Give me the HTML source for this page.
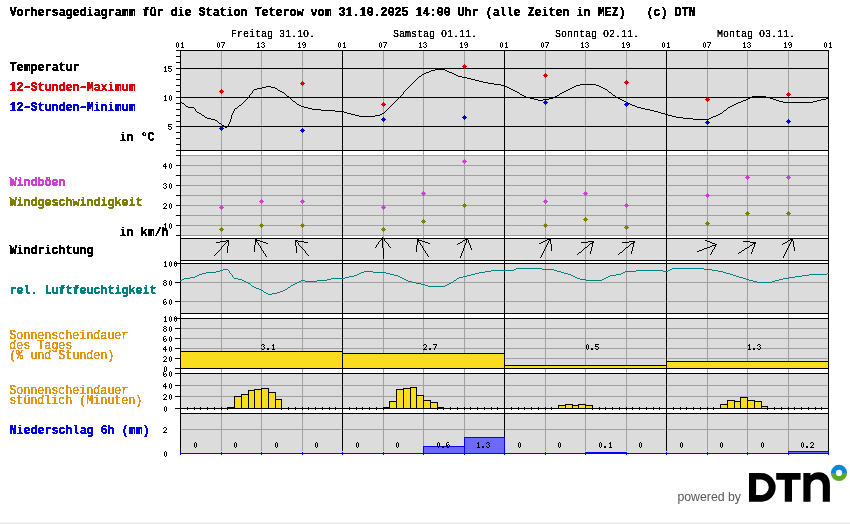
<!DOCTYPE html>
<html><head><meta charset="utf-8"><title>Vorhersagediagramm Teterow</title>
<style>
html,body{margin:0;padding:0;background:#fff;}
body{width:850px;height:524px;overflow:hidden;font-family:"Liberation Sans",sans-serif;}
svg{display:block;position:absolute;left:0;top:0;}
text{white-space:pre;}
</style></head><body>
<svg width="850" height="524" viewBox="0 0 850 524">
<rect width="850" height="524" fill="#fff"/>
<rect x="0" y="522" width="850" height="1" fill="#f2f2f2"/>
<rect x="0" y="523" width="850" height="1" fill="#ebebeb"/>
<g shape-rendering="crispEdges">
<rect x="180" y="50" width="649" height="101" fill="#dcdcdc"/>
<rect x="180" y="155" width="649" height="81" fill="#dcdcdc"/>
<rect x="180" y="238" width="649" height="23" fill="#dcdcdc"/>
<rect x="180" y="263" width="649" height="51" fill="#dcdcdc"/>
<rect x="180" y="318" width="649" height="51" fill="#dcdcdc"/>
<rect x="180" y="373" width="649" height="36" fill="#dcdcdc"/>
<rect x="180" y="413" width="649" height="41" fill="#dcdcdc"/>
<rect x="180" y="155" width="649" height="1" fill="#a0a0a0"/>
<rect x="180" y="165" width="649" height="1" fill="#a0a0a0"/>
<rect x="180" y="175" width="649" height="1" fill="#a0a0a0"/>
<rect x="180" y="185" width="649" height="1" fill="#a0a0a0"/>
<rect x="180" y="195" width="649" height="1" fill="#a0a0a0"/>
<rect x="180" y="205" width="649" height="1" fill="#a0a0a0"/>
<rect x="180" y="215" width="649" height="1" fill="#a0a0a0"/>
<rect x="180" y="225" width="649" height="1" fill="#a0a0a0"/>
<rect x="180" y="235" width="649" height="1" fill="#a0a0a0"/>
<rect x="180" y="282" width="649" height="1" fill="#a0a0a0"/>
<rect x="180" y="301" width="649" height="1" fill="#a0a0a0"/>
<rect x="180" y="328" width="649" height="1" fill="#a0a0a0"/>
<rect x="180" y="338" width="649" height="1" fill="#a0a0a0"/>
<rect x="180" y="348" width="649" height="1" fill="#a0a0a0"/>
<rect x="180" y="358" width="649" height="1" fill="#a0a0a0"/>
<rect x="180" y="385" width="649" height="1" fill="#a0a0a0"/>
<rect x="180" y="396" width="649" height="1" fill="#a0a0a0"/>
<rect x="180" y="429" width="649" height="1" fill="#a0a0a0"/>
<rect x="221" y="51" width="1" height="400" fill="#a0a0a0"/>
<rect x="261" y="51" width="1" height="400" fill="#a0a0a0"/>
<rect x="302" y="51" width="1" height="400" fill="#a0a0a0"/>
<rect x="383" y="51" width="1" height="400" fill="#a0a0a0"/>
<rect x="423" y="51" width="1" height="400" fill="#a0a0a0"/>
<rect x="464" y="51" width="1" height="400" fill="#a0a0a0"/>
<rect x="545" y="51" width="1" height="400" fill="#a0a0a0"/>
<rect x="585" y="51" width="1" height="400" fill="#a0a0a0"/>
<rect x="626" y="51" width="1" height="400" fill="#a0a0a0"/>
<rect x="707" y="51" width="1" height="400" fill="#a0a0a0"/>
<rect x="747" y="51" width="1" height="400" fill="#a0a0a0"/>
<rect x="788" y="51" width="1" height="400" fill="#a0a0a0"/>
<rect x="180" y="50" width="649" height="1" fill="#000"/>
<rect x="180" y="68" width="649" height="1" fill="#000"/>
<rect x="180" y="97" width="649" height="1" fill="#000"/>
<rect x="180" y="126" width="649" height="1" fill="#000"/>
<rect x="180" y="150" width="649" height="1" fill="#000"/>
<rect x="180" y="238" width="649" height="1" fill="#000"/>
<rect x="180" y="260" width="649" height="1" fill="#000"/>
<rect x="180" y="263" width="649" height="1" fill="#000"/>
<rect x="180" y="313" width="649" height="1" fill="#000"/>
<rect x="180" y="318" width="649" height="1" fill="#000"/>
<rect x="180" y="368" width="649" height="1" fill="#000"/>
<rect x="180" y="373" width="649" height="1" fill="#000"/>
<rect x="180" y="408" width="649" height="1" fill="#000"/>
<rect x="180" y="413" width="649" height="1" fill="#000"/>
<rect x="180" y="50" width="1" height="402" fill="#000"/>
<rect x="828" y="50" width="1" height="401" fill="#000"/>
<rect x="342" y="50" width="1" height="401" fill="#000"/>
<rect x="504" y="50" width="1" height="401" fill="#000"/>
<rect x="666" y="50" width="1" height="401" fill="#000"/>
<rect x="176" y="150" width="4" height="1" fill="#000"/>
<rect x="176" y="144" width="4" height="1" fill="#000"/>
<rect x="176" y="138" width="4" height="1" fill="#000"/>
<rect x="176" y="132" width="4" height="1" fill="#000"/>
<rect x="176" y="126" width="4" height="1" fill="#000"/>
<rect x="176" y="121" width="4" height="1" fill="#000"/>
<rect x="176" y="115" width="4" height="1" fill="#000"/>
<rect x="176" y="109" width="4" height="1" fill="#000"/>
<rect x="176" y="103" width="4" height="1" fill="#000"/>
<rect x="176" y="97" width="4" height="1" fill="#000"/>
<rect x="176" y="91" width="4" height="1" fill="#000"/>
<rect x="176" y="85" width="4" height="1" fill="#000"/>
<rect x="176" y="79" width="4" height="1" fill="#000"/>
<rect x="176" y="74" width="4" height="1" fill="#000"/>
<rect x="176" y="68" width="4" height="1" fill="#000"/>
<rect x="176" y="62" width="4" height="1" fill="#000"/>
<rect x="176" y="56" width="4" height="1" fill="#000"/>
<rect x="176" y="50" width="4" height="1" fill="#000"/>
<rect x="176" y="155" width="4" height="1" fill="#000"/>
<rect x="176" y="165" width="4" height="1" fill="#000"/>
<rect x="176" y="175" width="4" height="1" fill="#000"/>
<rect x="176" y="185" width="4" height="1" fill="#000"/>
<rect x="176" y="195" width="4" height="1" fill="#000"/>
<rect x="176" y="205" width="4" height="1" fill="#000"/>
<rect x="176" y="215" width="4" height="1" fill="#000"/>
<rect x="176" y="225" width="4" height="1" fill="#000"/>
<rect x="176" y="235" width="4" height="1" fill="#000"/>
<rect x="175" y="263" width="5" height="1" fill="#000"/>
<rect x="175" y="282" width="5" height="1" fill="#000"/>
<rect x="175" y="301" width="5" height="1" fill="#000"/>
<rect x="175" y="318" width="5" height="1" fill="#000"/>
<rect x="175" y="328" width="5" height="1" fill="#000"/>
<rect x="175" y="338" width="5" height="1" fill="#000"/>
<rect x="175" y="348" width="5" height="1" fill="#000"/>
<rect x="175" y="358" width="5" height="1" fill="#000"/>
<rect x="175" y="368" width="5" height="1" fill="#000"/>
<rect x="175" y="373" width="5" height="1" fill="#000"/>
<rect x="175" y="385" width="5" height="1" fill="#000"/>
<rect x="175" y="396" width="5" height="1" fill="#000"/>
<rect x="175" y="408" width="5" height="1" fill="#000"/>
<path d="M165 66h1v1h-1zM164 67h2v1h-2zM165 68h1v1h-1zM165 69h1v1h-1zM165 70h1v1h-1zM164 71h3v1h-3zM168 66h4v1h-4zM168 67h1v1h-1zM168 68h3v1h-3zM171 69h1v1h-1zM168 70h1v1h-1zM171 70h1v1h-1zM169 71h2v1h-2z" fill="#000"/>
<path d="M165 95h1v1h-1zM164 96h2v1h-2zM165 97h1v1h-1zM165 98h1v1h-1zM165 99h1v1h-1zM164 100h3v1h-3zM170 95h1v1h-1zM169 96h1v1h-1zM171 96h1v1h-1zM169 97h1v1h-1zM171 97h1v1h-1zM169 98h1v1h-1zM171 98h1v1h-1zM169 99h1v1h-1zM171 99h1v1h-1zM170 100h1v1h-1z" fill="#000"/>
<path d="M168 124h4v1h-4zM168 125h1v1h-1zM168 126h3v1h-3zM171 127h1v1h-1zM168 128h1v1h-1zM171 128h1v1h-1zM169 129h2v1h-2z" fill="#000"/>
<path d="M165 163h1v1h-1zM164 164h2v1h-2zM163 165h1v1h-1zM165 165h1v1h-1zM163 166h4v1h-4zM165 167h1v1h-1zM165 168h1v1h-1zM170 163h1v1h-1zM169 164h1v1h-1zM171 164h1v1h-1zM169 165h1v1h-1zM171 165h1v1h-1zM169 166h1v1h-1zM171 166h1v1h-1zM169 167h1v1h-1zM171 167h1v1h-1zM170 168h1v1h-1z" fill="#000"/>
<path d="M164 183h2v1h-2zM163 184h1v1h-1zM166 184h1v1h-1zM165 185h1v1h-1zM166 186h1v1h-1zM163 187h1v1h-1zM166 187h1v1h-1zM164 188h2v1h-2zM170 183h1v1h-1zM169 184h1v1h-1zM171 184h1v1h-1zM169 185h1v1h-1zM171 185h1v1h-1zM169 186h1v1h-1zM171 186h1v1h-1zM169 187h1v1h-1zM171 187h1v1h-1zM170 188h1v1h-1z" fill="#000"/>
<path d="M164 203h2v1h-2zM163 204h1v1h-1zM166 204h1v1h-1zM166 205h1v1h-1zM165 206h1v1h-1zM164 207h1v1h-1zM163 208h4v1h-4zM170 203h1v1h-1zM169 204h1v1h-1zM171 204h1v1h-1zM169 205h1v1h-1zM171 205h1v1h-1zM169 206h1v1h-1zM171 206h1v1h-1zM169 207h1v1h-1zM171 207h1v1h-1zM170 208h1v1h-1z" fill="#000"/>
<path d="M165 223h1v1h-1zM164 224h2v1h-2zM165 225h1v1h-1zM165 226h1v1h-1zM165 227h1v1h-1zM164 228h3v1h-3zM170 223h1v1h-1zM169 224h1v1h-1zM171 224h1v1h-1zM169 225h1v1h-1zM171 225h1v1h-1zM169 226h1v1h-1zM171 226h1v1h-1zM169 227h1v1h-1zM171 227h1v1h-1zM170 228h1v1h-1z" fill="#000"/>
<path d="M165 261h1v1h-1zM164 262h2v1h-2zM165 263h1v1h-1zM165 264h1v1h-1zM165 265h1v1h-1zM164 266h3v1h-3zM170 261h1v1h-1zM169 262h1v1h-1zM171 262h1v1h-1zM169 263h1v1h-1zM171 263h1v1h-1zM169 264h1v1h-1zM171 264h1v1h-1zM169 265h1v1h-1zM171 265h1v1h-1zM170 266h1v1h-1zM175 261h1v1h-1zM174 262h1v1h-1zM176 262h1v1h-1zM174 263h1v1h-1zM176 263h1v1h-1zM174 264h1v1h-1zM176 264h1v1h-1zM174 265h1v1h-1zM176 265h1v1h-1zM175 266h1v1h-1z" fill="#000"/>
<path d="M164 280h2v1h-2zM163 281h1v1h-1zM166 281h1v1h-1zM164 282h2v1h-2zM163 283h1v1h-1zM166 283h1v1h-1zM163 284h1v1h-1zM166 284h1v1h-1zM164 285h2v1h-2zM170 280h1v1h-1zM169 281h1v1h-1zM171 281h1v1h-1zM169 282h1v1h-1zM171 282h1v1h-1zM169 283h1v1h-1zM171 283h1v1h-1zM169 284h1v1h-1zM171 284h1v1h-1zM170 285h1v1h-1z" fill="#000"/>
<path d="M164 299h2v1h-2zM163 300h1v1h-1zM163 301h1v1h-1zM165 301h1v1h-1zM163 302h2v1h-2zM166 302h1v1h-1zM163 303h1v1h-1zM166 303h1v1h-1zM164 304h2v1h-2zM170 299h1v1h-1zM169 300h1v1h-1zM171 300h1v1h-1zM169 301h1v1h-1zM171 301h1v1h-1zM169 302h1v1h-1zM171 302h1v1h-1zM169 303h1v1h-1zM171 303h1v1h-1zM170 304h1v1h-1z" fill="#000"/>
<path d="M165 316h1v1h-1zM164 317h2v1h-2zM165 318h1v1h-1zM165 319h1v1h-1zM165 320h1v1h-1zM164 321h3v1h-3zM170 316h1v1h-1zM169 317h1v1h-1zM171 317h1v1h-1zM169 318h1v1h-1zM171 318h1v1h-1zM169 319h1v1h-1zM171 319h1v1h-1zM169 320h1v1h-1zM171 320h1v1h-1zM170 321h1v1h-1zM175 316h1v1h-1zM174 317h1v1h-1zM176 317h1v1h-1zM174 318h1v1h-1zM176 318h1v1h-1zM174 319h1v1h-1zM176 319h1v1h-1zM174 320h1v1h-1zM176 320h1v1h-1zM175 321h1v1h-1z" fill="#000"/>
<path d="M164 326h2v1h-2zM163 327h1v1h-1zM166 327h1v1h-1zM164 328h2v1h-2zM163 329h1v1h-1zM166 329h1v1h-1zM163 330h1v1h-1zM166 330h1v1h-1zM164 331h2v1h-2zM170 326h1v1h-1zM169 327h1v1h-1zM171 327h1v1h-1zM169 328h1v1h-1zM171 328h1v1h-1zM169 329h1v1h-1zM171 329h1v1h-1zM169 330h1v1h-1zM171 330h1v1h-1zM170 331h1v1h-1z" fill="#000"/>
<path d="M164 336h2v1h-2zM163 337h1v1h-1zM163 338h1v1h-1zM165 338h1v1h-1zM163 339h2v1h-2zM166 339h1v1h-1zM163 340h1v1h-1zM166 340h1v1h-1zM164 341h2v1h-2zM170 336h1v1h-1zM169 337h1v1h-1zM171 337h1v1h-1zM169 338h1v1h-1zM171 338h1v1h-1zM169 339h1v1h-1zM171 339h1v1h-1zM169 340h1v1h-1zM171 340h1v1h-1zM170 341h1v1h-1z" fill="#000"/>
<path d="M165 346h1v1h-1zM164 347h2v1h-2zM163 348h1v1h-1zM165 348h1v1h-1zM163 349h4v1h-4zM165 350h1v1h-1zM165 351h1v1h-1zM170 346h1v1h-1zM169 347h1v1h-1zM171 347h1v1h-1zM169 348h1v1h-1zM171 348h1v1h-1zM169 349h1v1h-1zM171 349h1v1h-1zM169 350h1v1h-1zM171 350h1v1h-1zM170 351h1v1h-1z" fill="#000"/>
<path d="M164 356h2v1h-2zM163 357h1v1h-1zM166 357h1v1h-1zM166 358h1v1h-1zM165 359h1v1h-1zM164 360h1v1h-1zM163 361h4v1h-4zM170 356h1v1h-1zM169 357h1v1h-1zM171 357h1v1h-1zM169 358h1v1h-1zM171 358h1v1h-1zM169 359h1v1h-1zM171 359h1v1h-1zM169 360h1v1h-1zM171 360h1v1h-1zM170 361h1v1h-1z" fill="#000"/>
<path d="M165 366h1v1h-1zM164 367h1v1h-1zM166 367h1v1h-1zM164 368h1v1h-1zM166 368h1v1h-1zM164 369h1v1h-1zM166 369h1v1h-1zM164 370h1v1h-1zM166 370h1v1h-1zM165 371h1v1h-1z" fill="#000"/>
<path d="M164 371h2v1h-2zM163 372h1v1h-1zM163 373h1v1h-1zM165 373h1v1h-1zM163 374h2v1h-2zM166 374h1v1h-1zM163 375h1v1h-1zM166 375h1v1h-1zM164 376h2v1h-2zM170 371h1v1h-1zM169 372h1v1h-1zM171 372h1v1h-1zM169 373h1v1h-1zM171 373h1v1h-1zM169 374h1v1h-1zM171 374h1v1h-1zM169 375h1v1h-1zM171 375h1v1h-1zM170 376h1v1h-1z" fill="#000"/>
<path d="M165 383h1v1h-1zM164 384h2v1h-2zM163 385h1v1h-1zM165 385h1v1h-1zM163 386h4v1h-4zM165 387h1v1h-1zM165 388h1v1h-1zM170 383h1v1h-1zM169 384h1v1h-1zM171 384h1v1h-1zM169 385h1v1h-1zM171 385h1v1h-1zM169 386h1v1h-1zM171 386h1v1h-1zM169 387h1v1h-1zM171 387h1v1h-1zM170 388h1v1h-1z" fill="#000"/>
<path d="M164 394h2v1h-2zM163 395h1v1h-1zM166 395h1v1h-1zM166 396h1v1h-1zM165 397h1v1h-1zM164 398h1v1h-1zM163 399h4v1h-4zM170 394h1v1h-1zM169 395h1v1h-1zM171 395h1v1h-1zM169 396h1v1h-1zM171 396h1v1h-1zM169 397h1v1h-1zM171 397h1v1h-1zM169 398h1v1h-1zM171 398h1v1h-1zM170 399h1v1h-1z" fill="#000"/>
<path d="M165 406h1v1h-1zM164 407h1v1h-1zM166 407h1v1h-1zM164 408h1v1h-1zM166 408h1v1h-1zM164 409h1v1h-1zM166 409h1v1h-1zM164 410h1v1h-1zM166 410h1v1h-1zM165 411h1v1h-1z" fill="#000"/>
<path d="M164 427h2v1h-2zM163 428h1v1h-1zM166 428h1v1h-1zM166 429h1v1h-1zM165 430h1v1h-1zM164 431h1v1h-1zM163 432h4v1h-4z" fill="#000"/>
<path d="M165 451h1v1h-1zM164 452h1v1h-1zM166 452h1v1h-1zM164 453h1v1h-1zM166 453h1v1h-1zM164 454h1v1h-1zM166 454h1v1h-1zM164 455h1v1h-1zM166 455h1v1h-1zM165 456h1v1h-1z" fill="#000"/>
<path d="M177 42h1v1h-1zM176 43h1v1h-1zM178 43h1v1h-1zM176 44h1v1h-1zM178 44h1v1h-1zM176 45h1v1h-1zM178 45h1v1h-1zM176 46h1v1h-1zM178 46h1v1h-1zM177 47h1v1h-1zM182 42h1v1h-1zM181 43h2v1h-2zM182 44h1v1h-1zM182 45h1v1h-1zM182 46h1v1h-1zM181 47h3v1h-3z" fill="#000"/>
<path d="M218 42h1v1h-1zM217 43h1v1h-1zM219 43h1v1h-1zM217 44h1v1h-1zM219 44h1v1h-1zM217 45h1v1h-1zM219 45h1v1h-1zM217 46h1v1h-1zM219 46h1v1h-1zM218 47h1v1h-1zM221 42h4v1h-4zM224 43h1v1h-1zM223 44h1v1h-1zM223 45h1v1h-1zM222 46h1v1h-1zM222 47h1v1h-1z" fill="#000"/>
<path d="M258 42h1v1h-1zM257 43h2v1h-2zM258 44h1v1h-1zM258 45h1v1h-1zM258 46h1v1h-1zM257 47h3v1h-3zM262 42h2v1h-2zM261 43h1v1h-1zM264 43h1v1h-1zM263 44h1v1h-1zM264 45h1v1h-1zM261 46h1v1h-1zM264 46h1v1h-1zM262 47h2v1h-2z" fill="#000"/>
<path d="M299 42h1v1h-1zM298 43h2v1h-2zM299 44h1v1h-1zM299 45h1v1h-1zM299 46h1v1h-1zM298 47h3v1h-3zM303 42h2v1h-2zM302 43h1v1h-1zM305 43h1v1h-1zM302 44h1v1h-1zM304 44h2v1h-2zM303 45h1v1h-1zM305 45h1v1h-1zM305 46h1v1h-1zM303 47h2v1h-2z" fill="#000"/>
<path d="M339 42h1v1h-1zM338 43h1v1h-1zM340 43h1v1h-1zM338 44h1v1h-1zM340 44h1v1h-1zM338 45h1v1h-1zM340 45h1v1h-1zM338 46h1v1h-1zM340 46h1v1h-1zM339 47h1v1h-1zM344 42h1v1h-1zM343 43h2v1h-2zM344 44h1v1h-1zM344 45h1v1h-1zM344 46h1v1h-1zM343 47h3v1h-3z" fill="#000"/>
<path d="M380 42h1v1h-1zM379 43h1v1h-1zM381 43h1v1h-1zM379 44h1v1h-1zM381 44h1v1h-1zM379 45h1v1h-1zM381 45h1v1h-1zM379 46h1v1h-1zM381 46h1v1h-1zM380 47h1v1h-1zM383 42h4v1h-4zM386 43h1v1h-1zM385 44h1v1h-1zM385 45h1v1h-1zM384 46h1v1h-1zM384 47h1v1h-1z" fill="#000"/>
<path d="M420 42h1v1h-1zM419 43h2v1h-2zM420 44h1v1h-1zM420 45h1v1h-1zM420 46h1v1h-1zM419 47h3v1h-3zM424 42h2v1h-2zM423 43h1v1h-1zM426 43h1v1h-1zM425 44h1v1h-1zM426 45h1v1h-1zM423 46h1v1h-1zM426 46h1v1h-1zM424 47h2v1h-2z" fill="#000"/>
<path d="M461 42h1v1h-1zM460 43h2v1h-2zM461 44h1v1h-1zM461 45h1v1h-1zM461 46h1v1h-1zM460 47h3v1h-3zM465 42h2v1h-2zM464 43h1v1h-1zM467 43h1v1h-1zM464 44h1v1h-1zM466 44h2v1h-2zM465 45h1v1h-1zM467 45h1v1h-1zM467 46h1v1h-1zM465 47h2v1h-2z" fill="#000"/>
<path d="M501 42h1v1h-1zM500 43h1v1h-1zM502 43h1v1h-1zM500 44h1v1h-1zM502 44h1v1h-1zM500 45h1v1h-1zM502 45h1v1h-1zM500 46h1v1h-1zM502 46h1v1h-1zM501 47h1v1h-1zM506 42h1v1h-1zM505 43h2v1h-2zM506 44h1v1h-1zM506 45h1v1h-1zM506 46h1v1h-1zM505 47h3v1h-3z" fill="#000"/>
<path d="M542 42h1v1h-1zM541 43h1v1h-1zM543 43h1v1h-1zM541 44h1v1h-1zM543 44h1v1h-1zM541 45h1v1h-1zM543 45h1v1h-1zM541 46h1v1h-1zM543 46h1v1h-1zM542 47h1v1h-1zM545 42h4v1h-4zM548 43h1v1h-1zM547 44h1v1h-1zM547 45h1v1h-1zM546 46h1v1h-1zM546 47h1v1h-1z" fill="#000"/>
<path d="M582 42h1v1h-1zM581 43h2v1h-2zM582 44h1v1h-1zM582 45h1v1h-1zM582 46h1v1h-1zM581 47h3v1h-3zM586 42h2v1h-2zM585 43h1v1h-1zM588 43h1v1h-1zM587 44h1v1h-1zM588 45h1v1h-1zM585 46h1v1h-1zM588 46h1v1h-1zM586 47h2v1h-2z" fill="#000"/>
<path d="M623 42h1v1h-1zM622 43h2v1h-2zM623 44h1v1h-1zM623 45h1v1h-1zM623 46h1v1h-1zM622 47h3v1h-3zM627 42h2v1h-2zM626 43h1v1h-1zM629 43h1v1h-1zM626 44h1v1h-1zM628 44h2v1h-2zM627 45h1v1h-1zM629 45h1v1h-1zM629 46h1v1h-1zM627 47h2v1h-2z" fill="#000"/>
<path d="M663 42h1v1h-1zM662 43h1v1h-1zM664 43h1v1h-1zM662 44h1v1h-1zM664 44h1v1h-1zM662 45h1v1h-1zM664 45h1v1h-1zM662 46h1v1h-1zM664 46h1v1h-1zM663 47h1v1h-1zM668 42h1v1h-1zM667 43h2v1h-2zM668 44h1v1h-1zM668 45h1v1h-1zM668 46h1v1h-1zM667 47h3v1h-3z" fill="#000"/>
<path d="M704 42h1v1h-1zM703 43h1v1h-1zM705 43h1v1h-1zM703 44h1v1h-1zM705 44h1v1h-1zM703 45h1v1h-1zM705 45h1v1h-1zM703 46h1v1h-1zM705 46h1v1h-1zM704 47h1v1h-1zM707 42h4v1h-4zM710 43h1v1h-1zM709 44h1v1h-1zM709 45h1v1h-1zM708 46h1v1h-1zM708 47h1v1h-1z" fill="#000"/>
<path d="M744 42h1v1h-1zM743 43h2v1h-2zM744 44h1v1h-1zM744 45h1v1h-1zM744 46h1v1h-1zM743 47h3v1h-3zM748 42h2v1h-2zM747 43h1v1h-1zM750 43h1v1h-1zM749 44h1v1h-1zM750 45h1v1h-1zM747 46h1v1h-1zM750 46h1v1h-1zM748 47h2v1h-2z" fill="#000"/>
<path d="M785 42h1v1h-1zM784 43h2v1h-2zM785 44h1v1h-1zM785 45h1v1h-1zM785 46h1v1h-1zM784 47h3v1h-3zM789 42h2v1h-2zM788 43h1v1h-1zM791 43h1v1h-1zM788 44h1v1h-1zM790 44h2v1h-2zM789 45h1v1h-1zM791 45h1v1h-1zM791 46h1v1h-1zM789 47h2v1h-2z" fill="#000"/>
<path d="M825 42h1v1h-1zM824 43h1v1h-1zM826 43h1v1h-1zM824 44h1v1h-1zM826 44h1v1h-1zM824 45h1v1h-1zM826 45h1v1h-1zM824 46h1v1h-1zM826 46h1v1h-1zM825 47h1v1h-1zM830 42h1v1h-1zM829 43h2v1h-2zM830 44h1v1h-1zM830 45h1v1h-1zM830 46h1v1h-1zM829 47h3v1h-3z" fill="#000"/>
<rect x="180" y="351" width="163" height="18" fill="#000"/>
<rect x="181" y="352" width="161" height="16" fill="#f9dc1e"/>
<rect x="342" y="353" width="163" height="16" fill="#000"/>
<rect x="343" y="354" width="161" height="14" fill="#f9dc1e"/>
<rect x="504" y="365" width="163" height="4" fill="#000"/>
<rect x="505" y="366" width="161" height="2" fill="#f9dc1e"/>
<rect x="666" y="361" width="163" height="8" fill="#000"/>
<rect x="667" y="362" width="161" height="6" fill="#f9dc1e"/>
<path d="M262 344h2v1h-2zM261 345h1v1h-1zM264 345h1v1h-1zM263 346h1v1h-1zM264 347h1v1h-1zM261 348h1v1h-1zM264 348h1v1h-1zM262 349h2v1h-2zM267 348h2v1h-2zM267 349h2v1h-2zM273 344h1v1h-1zM272 345h2v1h-2zM273 346h1v1h-1zM273 347h1v1h-1zM273 348h1v1h-1zM272 349h3v1h-3z" fill="#000"/>
<path d="M424 344h2v1h-2zM423 345h1v1h-1zM426 345h1v1h-1zM426 346h1v1h-1zM425 347h1v1h-1zM424 348h1v1h-1zM423 349h4v1h-4zM429 348h2v1h-2zM429 349h2v1h-2zM433 344h4v1h-4zM436 345h1v1h-1zM435 346h1v1h-1zM435 347h1v1h-1zM434 348h1v1h-1zM434 349h1v1h-1z" fill="#000"/>
<path d="M587 344h1v1h-1zM586 345h1v1h-1zM588 345h1v1h-1zM586 346h1v1h-1zM588 346h1v1h-1zM586 347h1v1h-1zM588 347h1v1h-1zM586 348h1v1h-1zM588 348h1v1h-1zM587 349h1v1h-1zM591 348h2v1h-2zM591 349h2v1h-2zM595 344h4v1h-4zM595 345h1v1h-1zM595 346h3v1h-3zM598 347h1v1h-1zM595 348h1v1h-1zM598 348h1v1h-1zM596 349h2v1h-2z" fill="#000"/>
<path d="M749 344h1v1h-1zM748 345h2v1h-2zM749 346h1v1h-1zM749 347h1v1h-1zM749 348h1v1h-1zM748 349h3v1h-3zM753 348h2v1h-2zM753 349h2v1h-2zM758 344h2v1h-2zM757 345h1v1h-1zM760 345h1v1h-1zM759 346h1v1h-1zM760 347h1v1h-1zM757 348h1v1h-1zM760 348h1v1h-1zM758 349h2v1h-2z" fill="#000"/>
<rect x="187" y="407" width="1" height="3" fill="#000"/>
<rect x="194" y="407" width="1" height="3" fill="#000"/>
<rect x="200" y="407" width="1" height="3" fill="#000"/>
<rect x="207" y="407" width="1" height="3" fill="#000"/>
<rect x="214" y="407" width="1" height="3" fill="#000"/>
<rect x="221" y="407" width="1" height="3" fill="#000"/>
<rect x="227" y="407" width="1" height="3" fill="#000"/>
<rect x="234" y="407" width="1" height="2" fill="#000"/>
<rect x="241" y="407" width="1" height="2" fill="#000"/>
<rect x="248" y="407" width="1" height="2" fill="#000"/>
<rect x="254" y="407" width="1" height="2" fill="#000"/>
<rect x="261" y="407" width="1" height="2" fill="#000"/>
<rect x="268" y="407" width="1" height="2" fill="#000"/>
<rect x="275" y="407" width="1" height="2" fill="#000"/>
<rect x="281" y="407" width="1" height="3" fill="#000"/>
<rect x="288" y="407" width="1" height="3" fill="#000"/>
<rect x="295" y="407" width="1" height="3" fill="#000"/>
<rect x="302" y="407" width="1" height="3" fill="#000"/>
<rect x="308" y="407" width="1" height="3" fill="#000"/>
<rect x="315" y="407" width="1" height="3" fill="#000"/>
<rect x="322" y="407" width="1" height="3" fill="#000"/>
<rect x="329" y="407" width="1" height="3" fill="#000"/>
<rect x="335" y="407" width="1" height="3" fill="#000"/>
<rect x="342" y="407" width="1" height="3" fill="#000"/>
<rect x="349" y="407" width="1" height="3" fill="#000"/>
<rect x="356" y="407" width="1" height="3" fill="#000"/>
<rect x="362" y="407" width="1" height="3" fill="#000"/>
<rect x="369" y="407" width="1" height="3" fill="#000"/>
<rect x="376" y="407" width="1" height="3" fill="#000"/>
<rect x="383" y="407" width="1" height="3" fill="#000"/>
<rect x="389" y="407" width="1" height="2" fill="#000"/>
<rect x="396" y="407" width="1" height="2" fill="#000"/>
<rect x="403" y="407" width="1" height="2" fill="#000"/>
<rect x="410" y="407" width="1" height="2" fill="#000"/>
<rect x="416" y="407" width="1" height="2" fill="#000"/>
<rect x="423" y="407" width="1" height="2" fill="#000"/>
<rect x="430" y="407" width="1" height="2" fill="#000"/>
<rect x="437" y="407" width="1" height="3" fill="#000"/>
<rect x="443" y="407" width="1" height="3" fill="#000"/>
<rect x="450" y="407" width="1" height="3" fill="#000"/>
<rect x="457" y="407" width="1" height="3" fill="#000"/>
<rect x="464" y="407" width="1" height="3" fill="#000"/>
<rect x="470" y="407" width="1" height="3" fill="#000"/>
<rect x="477" y="407" width="1" height="3" fill="#000"/>
<rect x="484" y="407" width="1" height="3" fill="#000"/>
<rect x="491" y="407" width="1" height="3" fill="#000"/>
<rect x="497" y="407" width="1" height="3" fill="#000"/>
<rect x="504" y="407" width="1" height="3" fill="#000"/>
<rect x="511" y="407" width="1" height="3" fill="#000"/>
<rect x="518" y="407" width="1" height="3" fill="#000"/>
<rect x="524" y="407" width="1" height="3" fill="#000"/>
<rect x="531" y="407" width="1" height="3" fill="#000"/>
<rect x="538" y="407" width="1" height="3" fill="#000"/>
<rect x="545" y="407" width="1" height="3" fill="#000"/>
<rect x="551" y="407" width="1" height="3" fill="#000"/>
<rect x="558" y="407" width="1" height="2" fill="#000"/>
<rect x="565" y="407" width="1" height="2" fill="#000"/>
<rect x="572" y="407" width="1" height="2" fill="#000"/>
<rect x="578" y="407" width="1" height="2" fill="#000"/>
<rect x="585" y="407" width="1" height="2" fill="#000"/>
<rect x="592" y="407" width="1" height="3" fill="#000"/>
<rect x="599" y="407" width="1" height="3" fill="#000"/>
<rect x="605" y="407" width="1" height="3" fill="#000"/>
<rect x="612" y="407" width="1" height="3" fill="#000"/>
<rect x="619" y="407" width="1" height="3" fill="#000"/>
<rect x="626" y="407" width="1" height="3" fill="#000"/>
<rect x="632" y="407" width="1" height="3" fill="#000"/>
<rect x="639" y="407" width="1" height="3" fill="#000"/>
<rect x="646" y="407" width="1" height="3" fill="#000"/>
<rect x="653" y="407" width="1" height="3" fill="#000"/>
<rect x="659" y="407" width="1" height="3" fill="#000"/>
<rect x="666" y="407" width="1" height="3" fill="#000"/>
<rect x="673" y="407" width="1" height="3" fill="#000"/>
<rect x="680" y="407" width="1" height="3" fill="#000"/>
<rect x="686" y="407" width="1" height="3" fill="#000"/>
<rect x="693" y="407" width="1" height="3" fill="#000"/>
<rect x="700" y="407" width="1" height="3" fill="#000"/>
<rect x="707" y="407" width="1" height="3" fill="#000"/>
<rect x="713" y="407" width="1" height="3" fill="#000"/>
<rect x="720" y="407" width="1" height="2" fill="#000"/>
<rect x="727" y="407" width="1" height="2" fill="#000"/>
<rect x="734" y="407" width="1" height="2" fill="#000"/>
<rect x="740" y="407" width="1" height="2" fill="#000"/>
<rect x="747" y="407" width="1" height="2" fill="#000"/>
<rect x="754" y="407" width="1" height="2" fill="#000"/>
<rect x="761" y="407" width="1" height="2" fill="#000"/>
<rect x="767" y="407" width="1" height="3" fill="#000"/>
<rect x="774" y="407" width="1" height="3" fill="#000"/>
<rect x="781" y="407" width="1" height="3" fill="#000"/>
<rect x="788" y="407" width="1" height="3" fill="#000"/>
<rect x="794" y="407" width="1" height="3" fill="#000"/>
<rect x="801" y="407" width="1" height="3" fill="#000"/>
<rect x="808" y="407" width="1" height="3" fill="#000"/>
<rect x="815" y="407" width="1" height="3" fill="#000"/>
<rect x="821" y="407" width="1" height="3" fill="#000"/>
<rect x="227" y="407" width="8" height="2" fill="#000"/>
<rect x="234" y="396" width="8" height="13" fill="#000"/>
<rect x="235" y="397" width="6" height="11" fill="#f9dc1e"/>
<rect x="241" y="394" width="8" height="15" fill="#000"/>
<rect x="242" y="395" width="6" height="13" fill="#f9dc1e"/>
<rect x="248" y="390" width="7" height="19" fill="#000"/>
<rect x="249" y="391" width="5" height="17" fill="#f9dc1e"/>
<rect x="254" y="389" width="8" height="20" fill="#000"/>
<rect x="255" y="390" width="6" height="18" fill="#f9dc1e"/>
<rect x="261" y="388" width="8" height="21" fill="#000"/>
<rect x="262" y="389" width="6" height="19" fill="#f9dc1e"/>
<rect x="268" y="392" width="8" height="17" fill="#000"/>
<rect x="269" y="393" width="6" height="15" fill="#f9dc1e"/>
<rect x="275" y="399" width="7" height="10" fill="#000"/>
<rect x="276" y="400" width="5" height="8" fill="#f9dc1e"/>
<rect x="383" y="407" width="7" height="2" fill="#000"/>
<rect x="389" y="401" width="8" height="8" fill="#000"/>
<rect x="390" y="402" width="6" height="6" fill="#f9dc1e"/>
<rect x="396" y="389" width="8" height="20" fill="#000"/>
<rect x="397" y="390" width="6" height="18" fill="#f9dc1e"/>
<rect x="403" y="388" width="8" height="21" fill="#000"/>
<rect x="404" y="389" width="6" height="19" fill="#f9dc1e"/>
<rect x="410" y="387" width="7" height="22" fill="#000"/>
<rect x="411" y="388" width="5" height="20" fill="#f9dc1e"/>
<rect x="416" y="395" width="8" height="14" fill="#000"/>
<rect x="417" y="396" width="6" height="12" fill="#f9dc1e"/>
<rect x="423" y="400" width="8" height="9" fill="#000"/>
<rect x="424" y="401" width="6" height="7" fill="#f9dc1e"/>
<rect x="430" y="402" width="8" height="7" fill="#000"/>
<rect x="431" y="403" width="6" height="5" fill="#f9dc1e"/>
<rect x="437" y="407" width="7" height="2" fill="#000"/>
<rect x="558" y="405" width="8" height="4" fill="#000"/>
<rect x="559" y="406" width="6" height="2" fill="#f9dc1e"/>
<rect x="565" y="404" width="8" height="5" fill="#000"/>
<rect x="566" y="405" width="6" height="3" fill="#f9dc1e"/>
<rect x="572" y="405" width="7" height="4" fill="#000"/>
<rect x="573" y="406" width="5" height="2" fill="#f9dc1e"/>
<rect x="578" y="404" width="8" height="5" fill="#000"/>
<rect x="579" y="405" width="6" height="3" fill="#f9dc1e"/>
<rect x="585" y="405" width="8" height="4" fill="#000"/>
<rect x="586" y="406" width="6" height="2" fill="#f9dc1e"/>
<rect x="720" y="404" width="8" height="5" fill="#000"/>
<rect x="721" y="405" width="6" height="3" fill="#f9dc1e"/>
<rect x="727" y="400" width="8" height="9" fill="#000"/>
<rect x="728" y="401" width="6" height="7" fill="#f9dc1e"/>
<rect x="734" y="401" width="7" height="8" fill="#000"/>
<rect x="735" y="402" width="5" height="6" fill="#f9dc1e"/>
<rect x="740" y="397" width="8" height="12" fill="#000"/>
<rect x="741" y="398" width="6" height="10" fill="#f9dc1e"/>
<rect x="747" y="400" width="8" height="9" fill="#000"/>
<rect x="748" y="401" width="6" height="7" fill="#f9dc1e"/>
<rect x="754" y="401" width="8" height="8" fill="#000"/>
<rect x="755" y="402" width="6" height="6" fill="#f9dc1e"/>
<rect x="761" y="406" width="7" height="3" fill="#000"/>
<rect x="762" y="407" width="5" height="1" fill="#f9dc1e"/>
<rect x="180" y="453" width="649" height="1" fill="#0000ff"/>
<rect x="180" y="452" width="1" height="3" fill="#0000ff"/>
<rect x="221" y="452" width="1" height="3" fill="#0000ff"/>
<rect x="261" y="452" width="1" height="3" fill="#0000ff"/>
<rect x="302" y="452" width="1" height="3" fill="#0000ff"/>
<rect x="342" y="452" width="1" height="3" fill="#0000ff"/>
<rect x="383" y="452" width="1" height="3" fill="#0000ff"/>
<rect x="423" y="446" width="42" height="8" fill="#0000ff"/>
<rect x="424" y="447" width="40" height="6" fill="#6d69ff"/>
<rect x="423" y="452" width="1" height="3" fill="#0000ff"/>
<rect x="464" y="437" width="41" height="17" fill="#0000ff"/>
<rect x="465" y="438" width="39" height="15" fill="#6d69ff"/>
<rect x="464" y="452" width="1" height="3" fill="#0000ff"/>
<rect x="504" y="452" width="1" height="3" fill="#0000ff"/>
<rect x="545" y="452" width="1" height="3" fill="#0000ff"/>
<rect x="585" y="452" width="42" height="2" fill="#0000ff"/>
<rect x="585" y="452" width="1" height="3" fill="#0000ff"/>
<rect x="626" y="452" width="1" height="3" fill="#0000ff"/>
<rect x="666" y="452" width="1" height="3" fill="#0000ff"/>
<rect x="707" y="452" width="1" height="3" fill="#0000ff"/>
<rect x="747" y="452" width="1" height="3" fill="#0000ff"/>
<rect x="788" y="451" width="41" height="3" fill="#0000ff"/>
<rect x="789" y="452" width="39" height="1" fill="#6d69ff"/>
<rect x="788" y="452" width="1" height="3" fill="#0000ff"/>
<rect x="828" y="452" width="1" height="3" fill="#0000ff"/>
<path d="M195 442h1v1h-1zM194 443h1v1h-1zM196 443h1v1h-1zM194 444h1v1h-1zM196 444h1v1h-1zM194 445h1v1h-1zM196 445h1v1h-1zM194 446h1v1h-1zM196 446h1v1h-1zM195 447h1v1h-1z" fill="#000"/>
<path d="M235 442h1v1h-1zM234 443h1v1h-1zM236 443h1v1h-1zM234 444h1v1h-1zM236 444h1v1h-1zM234 445h1v1h-1zM236 445h1v1h-1zM234 446h1v1h-1zM236 446h1v1h-1zM235 447h1v1h-1z" fill="#000"/>
<path d="M276 442h1v1h-1zM275 443h1v1h-1zM277 443h1v1h-1zM275 444h1v1h-1zM277 444h1v1h-1zM275 445h1v1h-1zM277 445h1v1h-1zM275 446h1v1h-1zM277 446h1v1h-1zM276 447h1v1h-1z" fill="#000"/>
<path d="M316 442h1v1h-1zM315 443h1v1h-1zM317 443h1v1h-1zM315 444h1v1h-1zM317 444h1v1h-1zM315 445h1v1h-1zM317 445h1v1h-1zM315 446h1v1h-1zM317 446h1v1h-1zM316 447h1v1h-1z" fill="#000"/>
<path d="M357 442h1v1h-1zM356 443h1v1h-1zM358 443h1v1h-1zM356 444h1v1h-1zM358 444h1v1h-1zM356 445h1v1h-1zM358 445h1v1h-1zM356 446h1v1h-1zM358 446h1v1h-1zM357 447h1v1h-1z" fill="#000"/>
<path d="M397 442h1v1h-1zM396 443h1v1h-1zM398 443h1v1h-1zM396 444h1v1h-1zM398 444h1v1h-1zM396 445h1v1h-1zM398 445h1v1h-1zM396 446h1v1h-1zM398 446h1v1h-1zM397 447h1v1h-1z" fill="#000"/>
<path d="M438 442h1v1h-1zM437 443h1v1h-1zM439 443h1v1h-1zM437 444h1v1h-1zM439 444h1v1h-1zM437 445h1v1h-1zM439 445h1v1h-1zM437 446h1v1h-1zM439 446h1v1h-1zM438 447h1v1h-1zM442 446h2v1h-2zM442 447h2v1h-2zM447 442h2v1h-2zM446 443h1v1h-1zM446 444h1v1h-1zM448 444h1v1h-1zM446 445h2v1h-2zM449 445h1v1h-1zM446 446h1v1h-1zM449 446h1v1h-1zM447 447h2v1h-2z" fill="#000"/>
<path d="M478 442h1v1h-1zM477 443h2v1h-2zM478 444h1v1h-1zM478 445h1v1h-1zM478 446h1v1h-1zM477 447h3v1h-3zM482 446h2v1h-2zM482 447h2v1h-2zM487 442h2v1h-2zM486 443h1v1h-1zM489 443h1v1h-1zM488 444h1v1h-1zM489 445h1v1h-1zM486 446h1v1h-1zM489 446h1v1h-1zM487 447h2v1h-2z" fill="#000"/>
<path d="M519 442h1v1h-1zM518 443h1v1h-1zM520 443h1v1h-1zM518 444h1v1h-1zM520 444h1v1h-1zM518 445h1v1h-1zM520 445h1v1h-1zM518 446h1v1h-1zM520 446h1v1h-1zM519 447h1v1h-1z" fill="#000"/>
<path d="M559 442h1v1h-1zM558 443h1v1h-1zM560 443h1v1h-1zM558 444h1v1h-1zM560 444h1v1h-1zM558 445h1v1h-1zM560 445h1v1h-1zM558 446h1v1h-1zM560 446h1v1h-1zM559 447h1v1h-1z" fill="#000"/>
<path d="M600 442h1v1h-1zM599 443h1v1h-1zM601 443h1v1h-1zM599 444h1v1h-1zM601 444h1v1h-1zM599 445h1v1h-1zM601 445h1v1h-1zM599 446h1v1h-1zM601 446h1v1h-1zM600 447h1v1h-1zM604 446h2v1h-2zM604 447h2v1h-2zM610 442h1v1h-1zM609 443h2v1h-2zM610 444h1v1h-1zM610 445h1v1h-1zM610 446h1v1h-1zM609 447h3v1h-3z" fill="#000"/>
<path d="M640 442h1v1h-1zM639 443h1v1h-1zM641 443h1v1h-1zM639 444h1v1h-1zM641 444h1v1h-1zM639 445h1v1h-1zM641 445h1v1h-1zM639 446h1v1h-1zM641 446h1v1h-1zM640 447h1v1h-1z" fill="#000"/>
<path d="M681 442h1v1h-1zM680 443h1v1h-1zM682 443h1v1h-1zM680 444h1v1h-1zM682 444h1v1h-1zM680 445h1v1h-1zM682 445h1v1h-1zM680 446h1v1h-1zM682 446h1v1h-1zM681 447h1v1h-1z" fill="#000"/>
<path d="M721 442h1v1h-1zM720 443h1v1h-1zM722 443h1v1h-1zM720 444h1v1h-1zM722 444h1v1h-1zM720 445h1v1h-1zM722 445h1v1h-1zM720 446h1v1h-1zM722 446h1v1h-1zM721 447h1v1h-1z" fill="#000"/>
<path d="M762 442h1v1h-1zM761 443h1v1h-1zM763 443h1v1h-1zM761 444h1v1h-1zM763 444h1v1h-1zM761 445h1v1h-1zM763 445h1v1h-1zM761 446h1v1h-1zM763 446h1v1h-1zM762 447h1v1h-1z" fill="#000"/>
<path d="M802 442h1v1h-1zM801 443h1v1h-1zM803 443h1v1h-1zM801 444h1v1h-1zM803 444h1v1h-1zM801 445h1v1h-1zM803 445h1v1h-1zM801 446h1v1h-1zM803 446h1v1h-1zM802 447h1v1h-1zM806 446h2v1h-2zM806 447h2v1h-2zM811 442h2v1h-2zM810 443h1v1h-1zM813 443h1v1h-1zM813 444h1v1h-1zM812 445h1v1h-1zM811 446h1v1h-1zM810 447h4v1h-4z" fill="#000"/>
<path d="M435 69h10v1h-10zM431 70h4v1h-4zM445 70h2v1h-2zM429 71h2v1h-2zM447 71h2v1h-2zM426 72h3v1h-3zM449 72h3v1h-3zM424 73h2v1h-2zM452 73h2v1h-2zM422 74h2v1h-2zM454 74h2v1h-2zM421 75h1v1h-1zM456 75h2v1h-2zM419 76h2v1h-2zM458 76h4v1h-4zM418 77h1v1h-1zM462 77h5v1h-5zM417 78h1v1h-1zM467 78h4v1h-4zM416 79h1v1h-1zM471 79h4v1h-4zM415 80h1v1h-1zM475 80h4v1h-4zM414 81h1v1h-1zM479 81h4v1h-4zM413 82h1v1h-1zM483 82h5v1h-5zM412 83h1v1h-1zM488 83h6v1h-6zM411 84h1v1h-1zM494 84h7v1h-7zM580 84h16v1h-16zM410 85h1v1h-1zM501 85h4v1h-4zM576 85h4v1h-4zM596 85h3v1h-3zM266 86h5v1h-5zM409 86h1v1h-1zM505 86h2v1h-2zM574 86h2v1h-2zM599 86h2v1h-2zM262 87h4v1h-4zM271 87h4v1h-4zM408 87h1v1h-1zM507 87h2v1h-2zM572 87h2v1h-2zM601 87h2v1h-2zM257 88h5v1h-5zM275 88h2v1h-2zM407 88h1v1h-1zM509 88h2v1h-2zM570 88h2v1h-2zM603 88h2v1h-2zM254 89h3v1h-3zM277 89h1v1h-1zM406 89h1v1h-1zM511 89h2v1h-2zM568 89h2v1h-2zM605 89h2v1h-2zM253 90h1v1h-1zM278 90h2v1h-2zM405 90h1v1h-1zM513 90h2v1h-2zM566 90h2v1h-2zM607 90h1v1h-1zM252 91h1v1h-1zM280 91h2v1h-2zM404 91h1v1h-1zM515 91h2v1h-2zM564 91h2v1h-2zM608 91h1v1h-1zM252 92h1v1h-1zM282 92h2v1h-2zM403 92h1v1h-1zM517 92h2v1h-2zM562 92h2v1h-2zM609 92h2v1h-2zM251 93h1v1h-1zM284 93h1v1h-1zM403 93h1v1h-1zM519 93h1v1h-1zM560 93h2v1h-2zM611 93h1v1h-1zM250 94h1v1h-1zM285 94h1v1h-1zM402 94h1v1h-1zM520 94h2v1h-2zM559 94h1v1h-1zM612 94h1v1h-1zM249 95h1v1h-1zM286 95h1v1h-1zM401 95h1v1h-1zM522 95h2v1h-2zM557 95h2v1h-2zM613 95h2v1h-2zM249 96h1v1h-1zM287 96h2v1h-2zM400 96h1v1h-1zM524 96h2v1h-2zM555 96h2v1h-2zM615 96h1v1h-1zM752 96h14v1h-14zM248 97h1v1h-1zM289 97h1v1h-1zM399 97h1v1h-1zM526 97h4v1h-4zM553 97h2v1h-2zM616 97h2v1h-2zM750 97h2v1h-2zM766 97h4v1h-4zM247 98h1v1h-1zM290 98h1v1h-1zM398 98h1v1h-1zM530 98h4v1h-4zM549 98h4v1h-4zM618 98h2v1h-2zM748 98h2v1h-2zM770 98h3v1h-3zM826 98h3v1h-3zM246 99h1v1h-1zM291 99h1v1h-1zM397 99h1v1h-1zM534 99h4v1h-4zM543 99h6v1h-6zM620 99h2v1h-2zM746 99h2v1h-2zM773 99h3v1h-3zM821 99h5v1h-5zM245 100h1v1h-1zM292 100h1v1h-1zM396 100h1v1h-1zM538 100h5v1h-5zM622 100h2v1h-2zM743 100h3v1h-3zM776 100h3v1h-3zM817 100h4v1h-4zM180 101h1v1h-1zM244 101h1v1h-1zM293 101h2v1h-2zM395 101h1v1h-1zM624 101h2v1h-2zM741 101h2v1h-2zM779 101h4v1h-4zM813 101h4v1h-4zM181 102h1v1h-1zM243 102h1v1h-1zM295 102h1v1h-1zM394 102h1v1h-1zM626 102h2v1h-2zM738 102h3v1h-3zM783 102h30v1h-30zM182 103h2v1h-2zM242 103h1v1h-1zM296 103h1v1h-1zM393 103h1v1h-1zM628 103h2v1h-2zM736 103h2v1h-2zM184 104h1v1h-1zM241 104h1v1h-1zM297 104h2v1h-2zM392 104h1v1h-1zM630 104h2v1h-2zM734 104h2v1h-2zM185 105h1v1h-1zM239 105h2v1h-2zM299 105h2v1h-2zM391 105h1v1h-1zM632 105h3v1h-3zM732 105h2v1h-2zM186 106h2v1h-2zM238 106h1v1h-1zM301 106h3v1h-3zM390 106h1v1h-1zM635 106h2v1h-2zM730 106h2v1h-2zM188 107h6v1h-6zM237 107h1v1h-1zM304 107h4v1h-4zM389 107h1v1h-1zM637 107h4v1h-4zM728 107h2v1h-2zM194 108h1v1h-1zM235 108h2v1h-2zM308 108h4v1h-4zM388 108h1v1h-1zM641 108h4v1h-4zM727 108h1v1h-1zM195 109h1v1h-1zM234 109h1v1h-1zM312 109h9v1h-9zM387 109h1v1h-1zM645 109h5v1h-5zM726 109h1v1h-1zM195 110h1v1h-1zM234 110h1v1h-1zM321 110h14v1h-14zM386 110h1v1h-1zM650 110h4v1h-4zM724 110h2v1h-2zM196 111h1v1h-1zM233 111h1v1h-1zM335 111h9v1h-9zM385 111h1v1h-1zM654 111h4v1h-4zM723 111h1v1h-1zM197 112h2v1h-2zM233 112h1v1h-1zM344 112h3v1h-3zM384 112h1v1h-1zM658 112h3v1h-3zM722 112h1v1h-1zM199 113h2v1h-2zM232 113h1v1h-1zM347 113h4v1h-4zM382 113h2v1h-2zM661 113h4v1h-4zM720 113h2v1h-2zM201 114h1v1h-1zM232 114h1v1h-1zM351 114h4v1h-4zM380 114h2v1h-2zM665 114h3v1h-3zM718 114h2v1h-2zM202 115h2v1h-2zM231 115h1v1h-1zM355 115h4v1h-4zM375 115h5v1h-5zM668 115h4v1h-4zM716 115h2v1h-2zM204 116h1v1h-1zM231 116h1v1h-1zM359 116h16v1h-16zM672 116h4v1h-4zM713 116h3v1h-3zM205 117h2v1h-2zM231 117h1v1h-1zM676 117h7v1h-7zM711 117h2v1h-2zM207 118h4v1h-4zM231 118h1v1h-1zM683 118h10v1h-10zM709 118h2v1h-2zM211 119h4v1h-4zM230 119h1v1h-1zM693 119h16v1h-16zM215 120h2v1h-2zM230 120h1v1h-1zM217 121h1v1h-1zM230 121h1v1h-1zM218 122h1v1h-1zM229 122h1v1h-1zM219 123h2v1h-2zM229 123h1v1h-1zM221 124h1v1h-1zM228 124h1v1h-1zM222 125h2v1h-2zM228 125h1v1h-1zM224 126h1v1h-1zM227 126h1v1h-1zM225 127h2v1h-2z" fill="#000"/>
<path d="M516 268h26v1h-26zM672 268h32v1h-32zM223 269h5v1h-5zM514 269h2v1h-2zM542 269h12v1h-12zM670 269h2v1h-2zM704 269h8v1h-8zM220 270h3v1h-3zM228 270h1v1h-1zM491 270h23v1h-23zM554 270h3v1h-3zM636 270h27v1h-27zM668 270h2v1h-2zM712 270h6v1h-6zM216 271h4v1h-4zM229 271h1v1h-1zM364 271h9v1h-9zM485 271h6v1h-6zM557 271h4v1h-4zM625 271h11v1h-11zM663 271h5v1h-5zM718 271h5v1h-5zM206 272h10v1h-10zM229 272h1v1h-1zM361 272h3v1h-3zM373 272h13v1h-13zM479 272h6v1h-6zM561 272h3v1h-3zM623 272h2v1h-2zM723 272h3v1h-3zM202 273h4v1h-4zM230 273h1v1h-1zM359 273h2v1h-2zM386 273h4v1h-4zM475 273h4v1h-4zM564 273h4v1h-4zM621 273h2v1h-2zM726 273h4v1h-4zM827 273h2v1h-2zM199 274h3v1h-3zM231 274h1v1h-1zM357 274h2v1h-2zM390 274h4v1h-4zM471 274h4v1h-4zM568 274h3v1h-3zM616 274h5v1h-5zM730 274h3v1h-3zM809 274h18v1h-18zM197 275h2v1h-2zM232 275h1v1h-1zM354 275h3v1h-3zM394 275h4v1h-4zM467 275h4v1h-4zM571 275h2v1h-2zM610 275h6v1h-6zM733 275h3v1h-3zM802 275h7v1h-7zM195 276h2v1h-2zM232 276h1v1h-1zM349 276h5v1h-5zM398 276h2v1h-2zM463 276h4v1h-4zM573 276h2v1h-2zM608 276h2v1h-2zM736 276h3v1h-3zM795 276h7v1h-7zM190 277h5v1h-5zM233 277h1v1h-1zM345 277h4v1h-4zM400 277h2v1h-2zM459 277h4v1h-4zM575 277h2v1h-2zM606 277h2v1h-2zM739 277h4v1h-4zM789 277h6v1h-6zM184 278h6v1h-6zM234 278h4v1h-4zM331 278h14v1h-14zM402 278h2v1h-2zM457 278h2v1h-2zM577 278h3v1h-3zM604 278h2v1h-2zM743 278h3v1h-3zM783 278h6v1h-6zM182 279h2v1h-2zM238 279h4v1h-4zM327 279h4v1h-4zM404 279h2v1h-2zM456 279h1v1h-1zM580 279h6v1h-6zM602 279h2v1h-2zM746 279h3v1h-3zM779 279h4v1h-4zM180 280h2v1h-2zM242 280h2v1h-2zM301 280h4v1h-4zM317 280h10v1h-10zM406 280h2v1h-2zM454 280h2v1h-2zM586 280h16v1h-16zM749 280h4v1h-4zM775 280h4v1h-4zM244 281h2v1h-2zM299 281h2v1h-2zM305 281h12v1h-12zM408 281h4v1h-4zM453 281h1v1h-1zM753 281h4v1h-4zM772 281h3v1h-3zM246 282h2v1h-2zM297 282h2v1h-2zM412 282h4v1h-4zM451 282h2v1h-2zM757 282h15v1h-15zM248 283h2v1h-2zM295 283h2v1h-2zM416 283h5v1h-5zM449 283h2v1h-2zM250 284h1v1h-1zM293 284h2v1h-2zM421 284h4v1h-4zM447 284h2v1h-2zM251 285h1v1h-1zM291 285h2v1h-2zM425 285h3v1h-3zM445 285h2v1h-2zM252 286h2v1h-2zM290 286h1v1h-1zM428 286h17v1h-17zM254 287h2v1h-2zM288 287h2v1h-2zM256 288h3v1h-3zM287 288h1v1h-1zM259 289h2v1h-2zM285 289h2v1h-2zM261 290h2v1h-2zM283 290h2v1h-2zM263 291h1v1h-1zM280 291h3v1h-3zM264 292h2v1h-2zM277 292h3v1h-3zM266 293h2v1h-2zM272 293h5v1h-5zM268 294h4v1h-4z" fill="#008080"/>
<path d="M221 89h1v1h1v1h1v1h-1v1h-1v1h-1v-1h-1v-1h-1v-1h1v-1h1z" fill="#dd0000"/>
<path d="M302 81h1v1h1v1h1v1h-1v1h-1v1h-1v-1h-1v-1h-1v-1h1v-1h1z" fill="#dd0000"/>
<path d="M383 102h1v1h1v1h1v1h-1v1h-1v1h-1v-1h-1v-1h-1v-1h1v-1h1z" fill="#dd0000"/>
<path d="M464 64h1v1h1v1h1v1h-1v1h-1v1h-1v-1h-1v-1h-1v-1h1v-1h1z" fill="#dd0000"/>
<path d="M545 73h1v1h1v1h1v1h-1v1h-1v1h-1v-1h-1v-1h-1v-1h1v-1h1z" fill="#dd0000"/>
<path d="M626 80h1v1h1v1h1v1h-1v1h-1v1h-1v-1h-1v-1h-1v-1h1v-1h1z" fill="#dd0000"/>
<path d="M707 97h1v1h1v1h1v1h-1v1h-1v1h-1v-1h-1v-1h-1v-1h1v-1h1z" fill="#dd0000"/>
<path d="M788 92h1v1h1v1h1v1h-1v1h-1v1h-1v-1h-1v-1h-1v-1h1v-1h1z" fill="#dd0000"/>
<path d="M221 126h1v1h1v1h1v1h-1v1h-1v1h-1v-1h-1v-1h-1v-1h1v-1h1z" fill="#0000dd"/>
<path d="M302 128h1v1h1v1h1v1h-1v1h-1v1h-1v-1h-1v-1h-1v-1h1v-1h1z" fill="#0000dd"/>
<path d="M383 117h1v1h1v1h1v1h-1v1h-1v1h-1v-1h-1v-1h-1v-1h1v-1h1z" fill="#0000dd"/>
<path d="M464 115h1v1h1v1h1v1h-1v1h-1v1h-1v-1h-1v-1h-1v-1h1v-1h1z" fill="#0000dd"/>
<path d="M545 100h1v1h1v1h1v1h-1v1h-1v1h-1v-1h-1v-1h-1v-1h1v-1h1z" fill="#0000dd"/>
<path d="M626 102h1v1h1v1h1v1h-1v1h-1v1h-1v-1h-1v-1h-1v-1h1v-1h1z" fill="#0000dd"/>
<path d="M707 120h1v1h1v1h1v1h-1v1h-1v1h-1v-1h-1v-1h-1v-1h1v-1h1z" fill="#0000dd"/>
<path d="M788 119h1v1h1v1h1v1h-1v1h-1v1h-1v-1h-1v-1h-1v-1h1v-1h1z" fill="#0000dd"/>
<path d="M221 205h1v1h1v1h1v1h-1v1h-1v1h-1v-1h-1v-1h-1v-1h1v-1h1z" fill="#d040d0"/>
<path d="M221 227h1v1h1v1h1v1h-1v1h-1v1h-1v-1h-1v-1h-1v-1h1v-1h1z" fill="#808000"/>
<path d="M261 199h1v1h1v1h1v1h-1v1h-1v1h-1v-1h-1v-1h-1v-1h1v-1h1z" fill="#d040d0"/>
<path d="M261 223h1v1h1v1h1v1h-1v1h-1v1h-1v-1h-1v-1h-1v-1h1v-1h1z" fill="#808000"/>
<path d="M302 199h1v1h1v1h1v1h-1v1h-1v1h-1v-1h-1v-1h-1v-1h1v-1h1z" fill="#d040d0"/>
<path d="M302 223h1v1h1v1h1v1h-1v1h-1v1h-1v-1h-1v-1h-1v-1h1v-1h1z" fill="#808000"/>
<path d="M383 205h1v1h1v1h1v1h-1v1h-1v1h-1v-1h-1v-1h-1v-1h1v-1h1z" fill="#d040d0"/>
<path d="M383 227h1v1h1v1h1v1h-1v1h-1v1h-1v-1h-1v-1h-1v-1h1v-1h1z" fill="#808000"/>
<path d="M423 191h1v1h1v1h1v1h-1v1h-1v1h-1v-1h-1v-1h-1v-1h1v-1h1z" fill="#d040d0"/>
<path d="M423 219h1v1h1v1h1v1h-1v1h-1v1h-1v-1h-1v-1h-1v-1h1v-1h1z" fill="#808000"/>
<path d="M464 159h1v1h1v1h1v1h-1v1h-1v1h-1v-1h-1v-1h-1v-1h1v-1h1z" fill="#d040d0"/>
<path d="M464 203h1v1h1v1h1v1h-1v1h-1v1h-1v-1h-1v-1h-1v-1h1v-1h1z" fill="#808000"/>
<path d="M545 199h1v1h1v1h1v1h-1v1h-1v1h-1v-1h-1v-1h-1v-1h1v-1h1z" fill="#d040d0"/>
<path d="M545 223h1v1h1v1h1v1h-1v1h-1v1h-1v-1h-1v-1h-1v-1h1v-1h1z" fill="#808000"/>
<path d="M585 191h1v1h1v1h1v1h-1v1h-1v1h-1v-1h-1v-1h-1v-1h1v-1h1z" fill="#d040d0"/>
<path d="M585 217h1v1h1v1h1v1h-1v1h-1v1h-1v-1h-1v-1h-1v-1h1v-1h1z" fill="#808000"/>
<path d="M626 203h1v1h1v1h1v1h-1v1h-1v1h-1v-1h-1v-1h-1v-1h1v-1h1z" fill="#d040d0"/>
<path d="M626 225h1v1h1v1h1v1h-1v1h-1v1h-1v-1h-1v-1h-1v-1h1v-1h1z" fill="#808000"/>
<path d="M707 193h1v1h1v1h1v1h-1v1h-1v1h-1v-1h-1v-1h-1v-1h1v-1h1z" fill="#d040d0"/>
<path d="M707 221h1v1h1v1h1v1h-1v1h-1v1h-1v-1h-1v-1h-1v-1h1v-1h1z" fill="#808000"/>
<path d="M747 175h1v1h1v1h1v1h-1v1h-1v1h-1v-1h-1v-1h-1v-1h1v-1h1z" fill="#d040d0"/>
<path d="M747 211h1v1h1v1h1v1h-1v1h-1v1h-1v-1h-1v-1h-1v-1h1v-1h1z" fill="#808000"/>
<path d="M788 175h1v1h1v1h1v1h-1v1h-1v1h-1v-1h-1v-1h-1v-1h1v-1h1z" fill="#d040d0"/>
<path d="M788 211h1v1h1v1h1v1h-1v1h-1v1h-1v-1h-1v-1h-1v-1h1v-1h1z" fill="#808000"/>
<path d="M226 240h3v1h-3zM220 241h6v1h-6zM227 241h2v1h-2zM216 242h4v1h-4zM226 242h1v1h-1zM228 242h1v1h-1zM225 243h1v1h-1zM228 243h1v1h-1zM224 244h1v1h-1zM228 244h1v1h-1zM223 245h1v1h-1zM228 245h1v1h-1zM222 246h1v1h-1zM227 246h1v1h-1zM221 247h1v1h-1zM227 247h1v1h-1zM221 248h1v1h-1zM227 248h1v1h-1zM220 249h1v1h-1zM227 249h1v1h-1zM219 250h1v1h-1zM227 250h1v1h-1zM218 251h1v1h-1zM227 251h1v1h-1zM217 252h1v1h-1zM227 252h1v1h-1zM216 253h1v1h-1zM215 254h1v1h-1zM214 255h1v1h-1z" fill="#000"/>
<path d="M255 239h2v1h-2zM255 240h5v1h-5zM255 241h2v1h-2zM260 241h3v1h-3zM255 242h1v1h-1zM257 242h1v1h-1zM263 242h3v1h-3zM255 243h1v1h-1zM258 243h1v1h-1zM266 243h2v1h-2zM255 244h1v1h-1zM258 244h1v1h-1zM254 245h1v1h-1zM259 245h1v1h-1zM254 246h1v1h-1zM260 246h1v1h-1zM254 247h1v1h-1zM260 247h1v1h-1zM254 248h1v1h-1zM261 248h1v1h-1zM254 249h1v1h-1zM261 249h1v1h-1zM254 250h1v1h-1zM262 250h1v1h-1zM254 251h1v1h-1zM263 251h1v1h-1zM263 252h1v1h-1zM264 253h1v1h-1zM265 254h1v1h-1zM265 255h1v1h-1zM266 256h1v1h-1z" fill="#000"/>
<path d="M295 240h3v1h-3zM295 241h2v1h-2zM298 241h6v1h-6zM295 242h1v1h-1zM297 242h1v1h-1zM304 242h4v1h-4zM295 243h1v1h-1zM298 243h1v1h-1zM295 244h1v1h-1zM298 244h1v1h-1zM295 245h1v1h-1zM299 245h1v1h-1zM296 246h1v1h-1zM300 246h1v1h-1zM296 247h1v1h-1zM301 247h1v1h-1zM296 248h1v1h-1zM302 248h1v1h-1zM296 249h1v1h-1zM303 249h1v1h-1zM296 250h1v1h-1zM304 250h1v1h-1zM296 251h1v1h-1zM305 251h1v1h-1zM296 252h1v1h-1zM305 252h1v1h-1zM306 253h1v1h-1zM307 254h1v1h-1zM308 255h1v1h-1z" fill="#000"/>
<path d="M382 237h1v1h-1zM381 238h3v1h-3zM381 239h2v1h-2zM384 239h1v1h-1zM380 240h1v1h-1zM382 240h1v1h-1zM384 240h1v1h-1zM379 241h1v1h-1zM382 241h1v1h-1zM385 241h1v1h-1zM378 242h1v1h-1zM382 242h1v1h-1zM386 242h1v1h-1zM378 243h1v1h-1zM382 243h1v1h-1zM387 243h1v1h-1zM377 244h1v1h-1zM382 244h1v1h-1zM388 244h1v1h-1zM376 245h1v1h-1zM382 245h1v1h-1zM388 245h1v1h-1zM376 246h1v1h-1zM382 246h1v1h-1zM389 246h1v1h-1zM375 247h1v1h-1zM382 247h1v1h-1zM390 247h1v1h-1zM383 248h1v1h-1zM383 249h1v1h-1zM383 250h1v1h-1zM383 251h1v1h-1zM383 252h1v1h-1zM383 253h1v1h-1zM383 254h1v1h-1zM383 255h1v1h-1zM383 256h1v1h-1zM383 257h1v1h-1zM383 258h1v1h-1z" fill="#000"/>
<path d="M417 239h2v1h-2zM417 240h5v1h-5zM417 241h2v1h-2zM422 241h3v1h-3zM417 242h1v1h-1zM419 242h1v1h-1zM425 242h3v1h-3zM417 243h1v1h-1zM420 243h1v1h-1zM428 243h2v1h-2zM417 244h1v1h-1zM420 244h1v1h-1zM416 245h1v1h-1zM421 245h1v1h-1zM416 246h1v1h-1zM422 246h1v1h-1zM416 247h1v1h-1zM422 247h1v1h-1zM416 248h1v1h-1zM423 248h1v1h-1zM416 249h1v1h-1zM423 249h1v1h-1zM416 250h1v1h-1zM424 250h1v1h-1zM416 251h1v1h-1zM425 251h1v1h-1zM425 252h1v1h-1zM426 253h1v1h-1zM427 254h1v1h-1zM427 255h1v1h-1zM428 256h1v1h-1z" fill="#000"/>
<path d="M467 238h1v1h-1zM465 239h3v1h-3zM463 240h2v1h-2zM466 240h1v1h-1zM468 240h1v1h-1zM462 241h1v1h-1zM466 241h1v1h-1zM468 241h1v1h-1zM460 242h2v1h-2zM466 242h1v1h-1zM468 242h1v1h-1zM458 243h2v1h-2zM465 243h1v1h-1zM469 243h1v1h-1zM457 244h1v1h-1zM465 244h1v1h-1zM469 244h1v1h-1zM464 245h1v1h-1zM470 245h1v1h-1zM464 246h1v1h-1zM470 246h1v1h-1zM464 247h1v1h-1zM470 247h1v1h-1zM463 248h1v1h-1zM471 248h1v1h-1zM463 249h1v1h-1zM471 249h1v1h-1zM463 250h1v1h-1zM462 251h1v1h-1zM462 252h1v1h-1zM461 253h1v1h-1zM461 254h1v1h-1zM461 255h1v1h-1zM460 256h1v1h-1zM460 257h1v1h-1z" fill="#000"/>
<path d="M549 238h2v1h-2zM547 239h4v1h-4zM545 240h2v1h-2zM549 240h2v1h-2zM543 241h2v1h-2zM548 241h1v1h-1zM550 241h1v1h-1zM541 242h2v1h-2zM548 242h1v1h-1zM550 242h1v1h-1zM539 243h2v1h-2zM547 243h1v1h-1zM550 243h1v1h-1zM547 244h1v1h-1zM551 244h1v1h-1zM546 245h1v1h-1zM551 245h1v1h-1zM546 246h1v1h-1zM551 246h1v1h-1zM545 247h1v1h-1zM551 247h1v1h-1zM545 248h1v1h-1zM551 248h1v1h-1zM544 249h1v1h-1zM551 249h1v1h-1zM544 250h1v1h-1zM551 250h1v1h-1zM543 251h1v1h-1zM543 252h1v1h-1zM542 253h1v1h-1zM542 254h1v1h-1zM541 255h1v1h-1zM541 256h1v1h-1zM540 257h1v1h-1z" fill="#000"/>
<path d="M588 241h6v1h-6zM581 242h7v1h-7zM592 242h2v1h-2zM590 243h3v1h-3zM589 244h1v1h-1zM592 244h1v1h-1zM588 245h1v1h-1zM592 245h1v1h-1zM587 246h1v1h-1zM592 246h1v1h-1zM585 247h2v1h-2zM591 247h1v1h-1zM584 248h1v1h-1zM591 248h1v1h-1zM583 249h1v1h-1zM591 249h1v1h-1zM582 250h1v1h-1zM591 250h1v1h-1zM581 251h1v1h-1zM590 251h1v1h-1zM579 252h2v1h-2zM590 252h1v1h-1zM578 253h1v1h-1zM590 253h1v1h-1zM577 254h1v1h-1z" fill="#000"/>
<path d="M629 241h6v1h-6zM622 242h7v1h-7zM633 242h2v1h-2zM631 243h3v1h-3zM630 244h1v1h-1zM633 244h1v1h-1zM629 245h1v1h-1zM633 245h1v1h-1zM628 246h1v1h-1zM633 246h1v1h-1zM626 247h2v1h-2zM632 247h1v1h-1zM625 248h1v1h-1zM632 248h1v1h-1zM624 249h1v1h-1zM632 249h1v1h-1zM623 250h1v1h-1zM632 250h1v1h-1zM622 251h1v1h-1zM631 251h1v1h-1zM620 252h2v1h-2zM631 252h1v1h-1zM619 253h1v1h-1zM631 253h1v1h-1zM618 254h1v1h-1z" fill="#000"/>
<path d="M705 240h2v1h-2zM707 241h3v1h-3zM710 242h2v1h-2zM712 243h3v1h-3zM715 244h2v1h-2zM712 245h4v1h-4zM710 246h2v1h-2zM715 246h1v1h-1zM707 247h3v1h-3zM714 247h1v1h-1zM704 248h3v1h-3zM714 248h1v1h-1zM702 249h2v1h-2zM713 249h1v1h-1zM699 250h3v1h-3zM712 250h1v1h-1zM697 251h2v1h-2zM712 251h1v1h-1zM711 252h1v1h-1zM711 253h1v1h-1zM710 254h1v1h-1z" fill="#000"/>
<path d="M743 241h7v1h-7zM750 242h6v1h-6zM753 243h3v1h-3zM752 244h1v1h-1zM754 244h1v1h-1zM750 245h2v1h-2zM754 245h1v1h-1zM749 246h1v1h-1zM754 246h1v1h-1zM747 247h2v1h-2zM753 247h1v1h-1zM745 248h2v1h-2zM753 248h1v1h-1zM744 249h1v1h-1zM752 249h1v1h-1zM742 250h2v1h-2zM752 250h1v1h-1zM741 251h1v1h-1zM752 251h1v1h-1zM739 252h2v1h-2zM751 252h1v1h-1zM738 253h1v1h-1zM751 253h1v1h-1z" fill="#000"/>
<path d="M792 238h1v1h-1zM790 239h3v1h-3zM788 240h2v1h-2zM791 240h2v1h-2zM787 241h1v1h-1zM791 241h1v1h-1zM793 241h1v1h-1zM785 242h2v1h-2zM790 242h1v1h-1zM793 242h1v1h-1zM783 243h2v1h-2zM790 243h1v1h-1zM793 243h1v1h-1zM782 244h1v1h-1zM789 244h1v1h-1zM793 244h1v1h-1zM789 245h1v1h-1zM793 245h1v1h-1zM788 246h1v1h-1zM793 246h1v1h-1zM788 247h1v1h-1zM794 247h1v1h-1zM787 248h1v1h-1zM794 248h1v1h-1zM787 249h1v1h-1zM794 249h1v1h-1zM786 250h1v1h-1zM794 250h1v1h-1zM786 251h1v1h-1zM785 252h1v1h-1zM785 253h1v1h-1zM784 254h1v1h-1zM784 255h1v1h-1zM783 256h1v1h-1zM783 257h1v1h-1z" fill="#000"/>
</g>
<defs><filter id="px" filterUnits="userSpaceOnUse" x="0" y="0" width="850" height="524" color-interpolation-filters="sRGB">
<feComponentTransfer><feFuncA type="discrete" tableValues="0 0 0 0 1 1 1 1 1"/></feComponentTransfer></filter></defs>
<filter id="px2" filterUnits="userSpaceOnUse" x="0" y="0" width="850" height="60" color-interpolation-filters="sRGB">
<feComponentTransfer><feFuncA type="linear" slope="3.2" intercept="-0.62"/></feComponentTransfer></filter>
<g filter="url(#px)">
<text x="9.5" y="16" font-family="'Liberation Mono', monospace" font-size="12" font-weight="bold" fill="#000" textLength="686" lengthAdjust="spacingAndGlyphs">Vorhersagediagramm für die Station Teterow vom 31.10.2025 14:00 Uhr (alle Zeiten in MEZ)   (c) DTN</text>
<text x="9.8" y="16" font-family="'Liberation Mono', monospace" font-size="12" font-weight="bold" fill="#000" textLength="686" lengthAdjust="spacingAndGlyphs">Vorhersagediagramm für die Station Teterow vom 31.10.2025 14:00 Uhr (alle Zeiten in MEZ)   (c) DTN</text>
<text x="9.5" y="71" font-family="'Liberation Mono', monospace" font-size="12" font-weight="bold" fill="#000" textLength="70" lengthAdjust="spacingAndGlyphs">Temperatur</text>
<text x="9.8" y="71" font-family="'Liberation Mono', monospace" font-size="12" font-weight="bold" fill="#000" textLength="70" lengthAdjust="spacingAndGlyphs">Temperatur</text>
<text x="9.5" y="91" font-family="'Liberation Mono', monospace" font-size="12" font-weight="bold" fill="#dd0000" textLength="126" lengthAdjust="spacingAndGlyphs">12−Stunden−Maximum</text>
<text x="9.8" y="91" font-family="'Liberation Mono', monospace" font-size="12" font-weight="bold" fill="#dd0000" textLength="126" lengthAdjust="spacingAndGlyphs">12−Stunden−Maximum</text>
<text x="9.5" y="111" font-family="'Liberation Mono', monospace" font-size="12" font-weight="bold" fill="#0000dd" textLength="126" lengthAdjust="spacingAndGlyphs">12−Stunden−Minimum</text>
<text x="9.8" y="111" font-family="'Liberation Mono', monospace" font-size="12" font-weight="bold" fill="#0000dd" textLength="126" lengthAdjust="spacingAndGlyphs">12−Stunden−Minimum</text>
<text x="119.5" y="141" font-family="'Liberation Mono', monospace" font-size="12" font-weight="bold" fill="#000" textLength="35" lengthAdjust="spacingAndGlyphs">in °C</text>
<text x="119.8" y="141" font-family="'Liberation Mono', monospace" font-size="12" font-weight="bold" fill="#000" textLength="35" lengthAdjust="spacingAndGlyphs">in °C</text>
<text x="9.5" y="186" font-family="'Liberation Mono', monospace" font-size="12" font-weight="bold" fill="#d040d0" textLength="56" lengthAdjust="spacingAndGlyphs">Windböen</text>
<text x="9.8" y="186" font-family="'Liberation Mono', monospace" font-size="12" font-weight="bold" fill="#d040d0" textLength="56" lengthAdjust="spacingAndGlyphs">Windböen</text>
<text x="9.5" y="206" font-family="'Liberation Mono', monospace" font-size="12" font-weight="bold" fill="#808000" textLength="133" lengthAdjust="spacingAndGlyphs">Windgeschwindigkeit</text>
<text x="9.8" y="206" font-family="'Liberation Mono', monospace" font-size="12" font-weight="bold" fill="#808000" textLength="133" lengthAdjust="spacingAndGlyphs">Windgeschwindigkeit</text>
<text x="119.5" y="236" font-family="'Liberation Mono', monospace" font-size="12" font-weight="bold" fill="#000" textLength="49" lengthAdjust="spacingAndGlyphs">in km/h</text>
<text x="119.8" y="236" font-family="'Liberation Mono', monospace" font-size="12" font-weight="bold" fill="#000" textLength="49" lengthAdjust="spacingAndGlyphs">in km/h</text>
<text x="9.5" y="254" font-family="'Liberation Mono', monospace" font-size="12" font-weight="bold" fill="#000" textLength="84" lengthAdjust="spacingAndGlyphs">Windrichtung</text>
<text x="9.8" y="254" font-family="'Liberation Mono', monospace" font-size="12" font-weight="bold" fill="#000" textLength="84" lengthAdjust="spacingAndGlyphs">Windrichtung</text>
<text x="9.5" y="294" font-family="'Liberation Mono', monospace" font-size="12" font-weight="bold" fill="#008080" textLength="147" lengthAdjust="spacingAndGlyphs">rel. Luftfeuchtigkeit</text>
<text x="9.8" y="294" font-family="'Liberation Mono', monospace" font-size="12" font-weight="bold" fill="#008080" textLength="147" lengthAdjust="spacingAndGlyphs">rel. Luftfeuchtigkeit</text>
<text x="9.5" y="434" font-family="'Liberation Mono', monospace" font-size="12" font-weight="bold" fill="#0000ee" textLength="140" lengthAdjust="spacingAndGlyphs">Niederschlag 6h (mm)</text>
<text x="9.8" y="434" font-family="'Liberation Mono', monospace" font-size="12" font-weight="bold" fill="#0000ee" textLength="140" lengthAdjust="spacingAndGlyphs">Niederschlag 6h (mm)</text>
</g>
<g filter="url(#px2)">
<text x="231" y="37" font-family="'Liberation Mono', monospace" font-size="11.3" font-weight="normal" fill="#000" textLength="84" lengthAdjust="spacingAndGlyphs">Freitag 31.1O.</text>
<text x="393" y="37" font-family="'Liberation Mono', monospace" font-size="11.3" font-weight="normal" fill="#000" textLength="84" lengthAdjust="spacingAndGlyphs">Samstag O1.11.</text>
<text x="555" y="37" font-family="'Liberation Mono', monospace" font-size="11.3" font-weight="normal" fill="#000" textLength="84" lengthAdjust="spacingAndGlyphs">Sonntag O2.11.</text>
<text x="717" y="37" font-family="'Liberation Mono', monospace" font-size="11.3" font-weight="normal" fill="#000" textLength="78" lengthAdjust="spacingAndGlyphs">Montag O3.11.</text>
</g>
<filter id="px3" filterUnits="userSpaceOnUse" x="0" y="320" width="180" height="100" color-interpolation-filters="sRGB">
<feComponentTransfer><feFuncA type="discrete" tableValues="0 1 1 1 1"/></feComponentTransfer></filter>
<g filter="url(#px3)">
<text x="9.3" y="339" font-family="'Liberation Mono', monospace" font-size="12" fill="#e4940a" textLength="119" lengthAdjust="spacingAndGlyphs">Sonnenscheindauer</text>
<text x="9.3" y="349" font-family="'Liberation Mono', monospace" font-size="12" fill="#e4940a" textLength="63" lengthAdjust="spacingAndGlyphs">des Tages</text>
<text x="9.3" y="359" font-family="'Liberation Mono', monospace" font-size="12" fill="#e4940a" textLength="105" lengthAdjust="spacingAndGlyphs">(% und Stunden)</text>
<text x="9.3" y="394" font-family="'Liberation Mono', monospace" font-size="12" fill="#e4940a" textLength="119" lengthAdjust="spacingAndGlyphs">Sonnenscheindauer</text>
<text x="9.3" y="404" font-family="'Liberation Mono', monospace" font-size="12" fill="#e4940a" textLength="133" lengthAdjust="spacingAndGlyphs">stündlich (Minuten)</text>
</g>

<defs><filter id="gs" filterUnits="userSpaceOnUse" x="660" y="480" width="100" height="30"><feOffset dx="0" dy="0"/></filter></defs>
<g filter="url(#gs)"><text x="677.4" y="500.8" font-family="'Liberation Sans', sans-serif" font-size="12.3" fill="#555" textLength="63.6" lengthAdjust="spacingAndGlyphs">powered by</text></g>
<g fill="#000">
<path d="M749 473H761.300A14.350 14.350 0 0 1 761.300 501.700H749ZM756.100 479.600H761A7.750 7.750 0 0 1 761 495.100H756.100Z" fill-rule="evenodd"/>
<path d="M776.200 473H800.600V479.700H792V501.700H784.800V479.700H776.200Z"/>
<path d="M803.400 501.700V473H810.500V475.600C812.500 473.500 815.500 472.300 818.800 472.300C825.500 472.300 829.900 477 829.900 484.500V501.700H822.800V485.800C822.800 482 820.800 479.500 816.900 479.500C813 479.500 810.500 482.200 810.500 486.200V501.700Z"/>
</g>
<path d="M830.900 472.900a8.100 8.100 0 0 1 16.200 0h-5a3.100 3.100 0 0 0-6.200 0z" fill="#0a88d6"/>
<path d="M830.900 472.900a8.100 8.100 0 0 0 16.200 0h-5a3.100 3.100 0 0 1-6.200 0z" fill="#5aaa2a"/>

</svg>
</body></html>
